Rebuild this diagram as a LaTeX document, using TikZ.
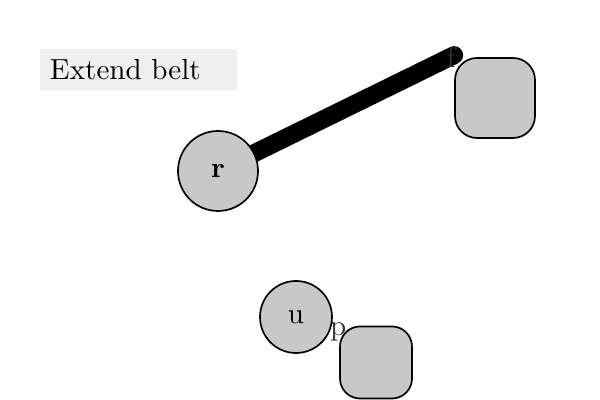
\documentclass[tikz,border=0pt]{standalone}
\usepackage{graphicx}
\usepackage{tikz}
\usetikzlibrary{shapes.geometric, arrows}
\definecolor{nodegray}{HTML}{C8C8C8}
\definecolor{tagback}{HTML}{EFEFEF}
\newcommand{\bigtext}[1]{\scalebox{2.07}{#1}}
\pgfdeclarelayer{beltlayer}
\pgfdeclarelayer{letterlayer}
\pgfsetlayers{beltlayer,letterlayer,main}

\begin{document}
\begin{tikzpicture}[
            pulley/.style={circle, draw, line width=1.2pt, fill=nodegray, inner sep=0pt}, % Round wheels
            block/.style={rectangle, rounded corners=0.55cm, draw, line width=1.2pt, fill=nodegray}, % Rounded blocks
            corner/.style={anchor=center, text=black!80, inner sep=0pt}, % Small corner letters
            tag/.style={fill=tagback, text width=4.425cm, inner sep=0.25cm, minimum height=0.975cm, align=left} % Caption box
            ]
        \useasboundingbox (0,0) rectangle (15,10);

                % Caption in the top left corner
                \node[tag] (caption) at (3.4625,8.2625) {\bigtext{Extend belt}};

                % Wheels and blocks
                \node[pulley, minimum size=2cm] (r) at (5.45,5.725) {\bigtext{\bfseries r}};
                \node[block, minimum size=2cm] (boxf) at (12.375,7.55) {};
                \node[pulley, minimum size=1.8cm] (u) at (7.4,2.075) {\bigtext{u}};
                \node[block, minimum size=1.8cm, rounded corners=0.5cm] (boxp) at (9.4,0.9375) {};

                % Letters sit under the blocks
                \begin{pgfonlayer}{letterlayer}
                    \node[corner] (ftag) at ([shift={(-0.075,0)}]boxf.north west) {\bigtext{f}};
                    \node[corner] (ptag) at ([shift={(-0.025,-0.16)}]boxp.north west) {\bigtext{p}};
                \end{pgfonlayer}

                % The belt runs behind everything
                \begin{pgfonlayer}{beltlayer}
                    \draw[line width=0.45cm, line cap=round] (r.center) -- ([shift={(0,0.05)}]boxf.north west);
                \end{pgfonlayer}

            \end{tikzpicture}
\end{document}
